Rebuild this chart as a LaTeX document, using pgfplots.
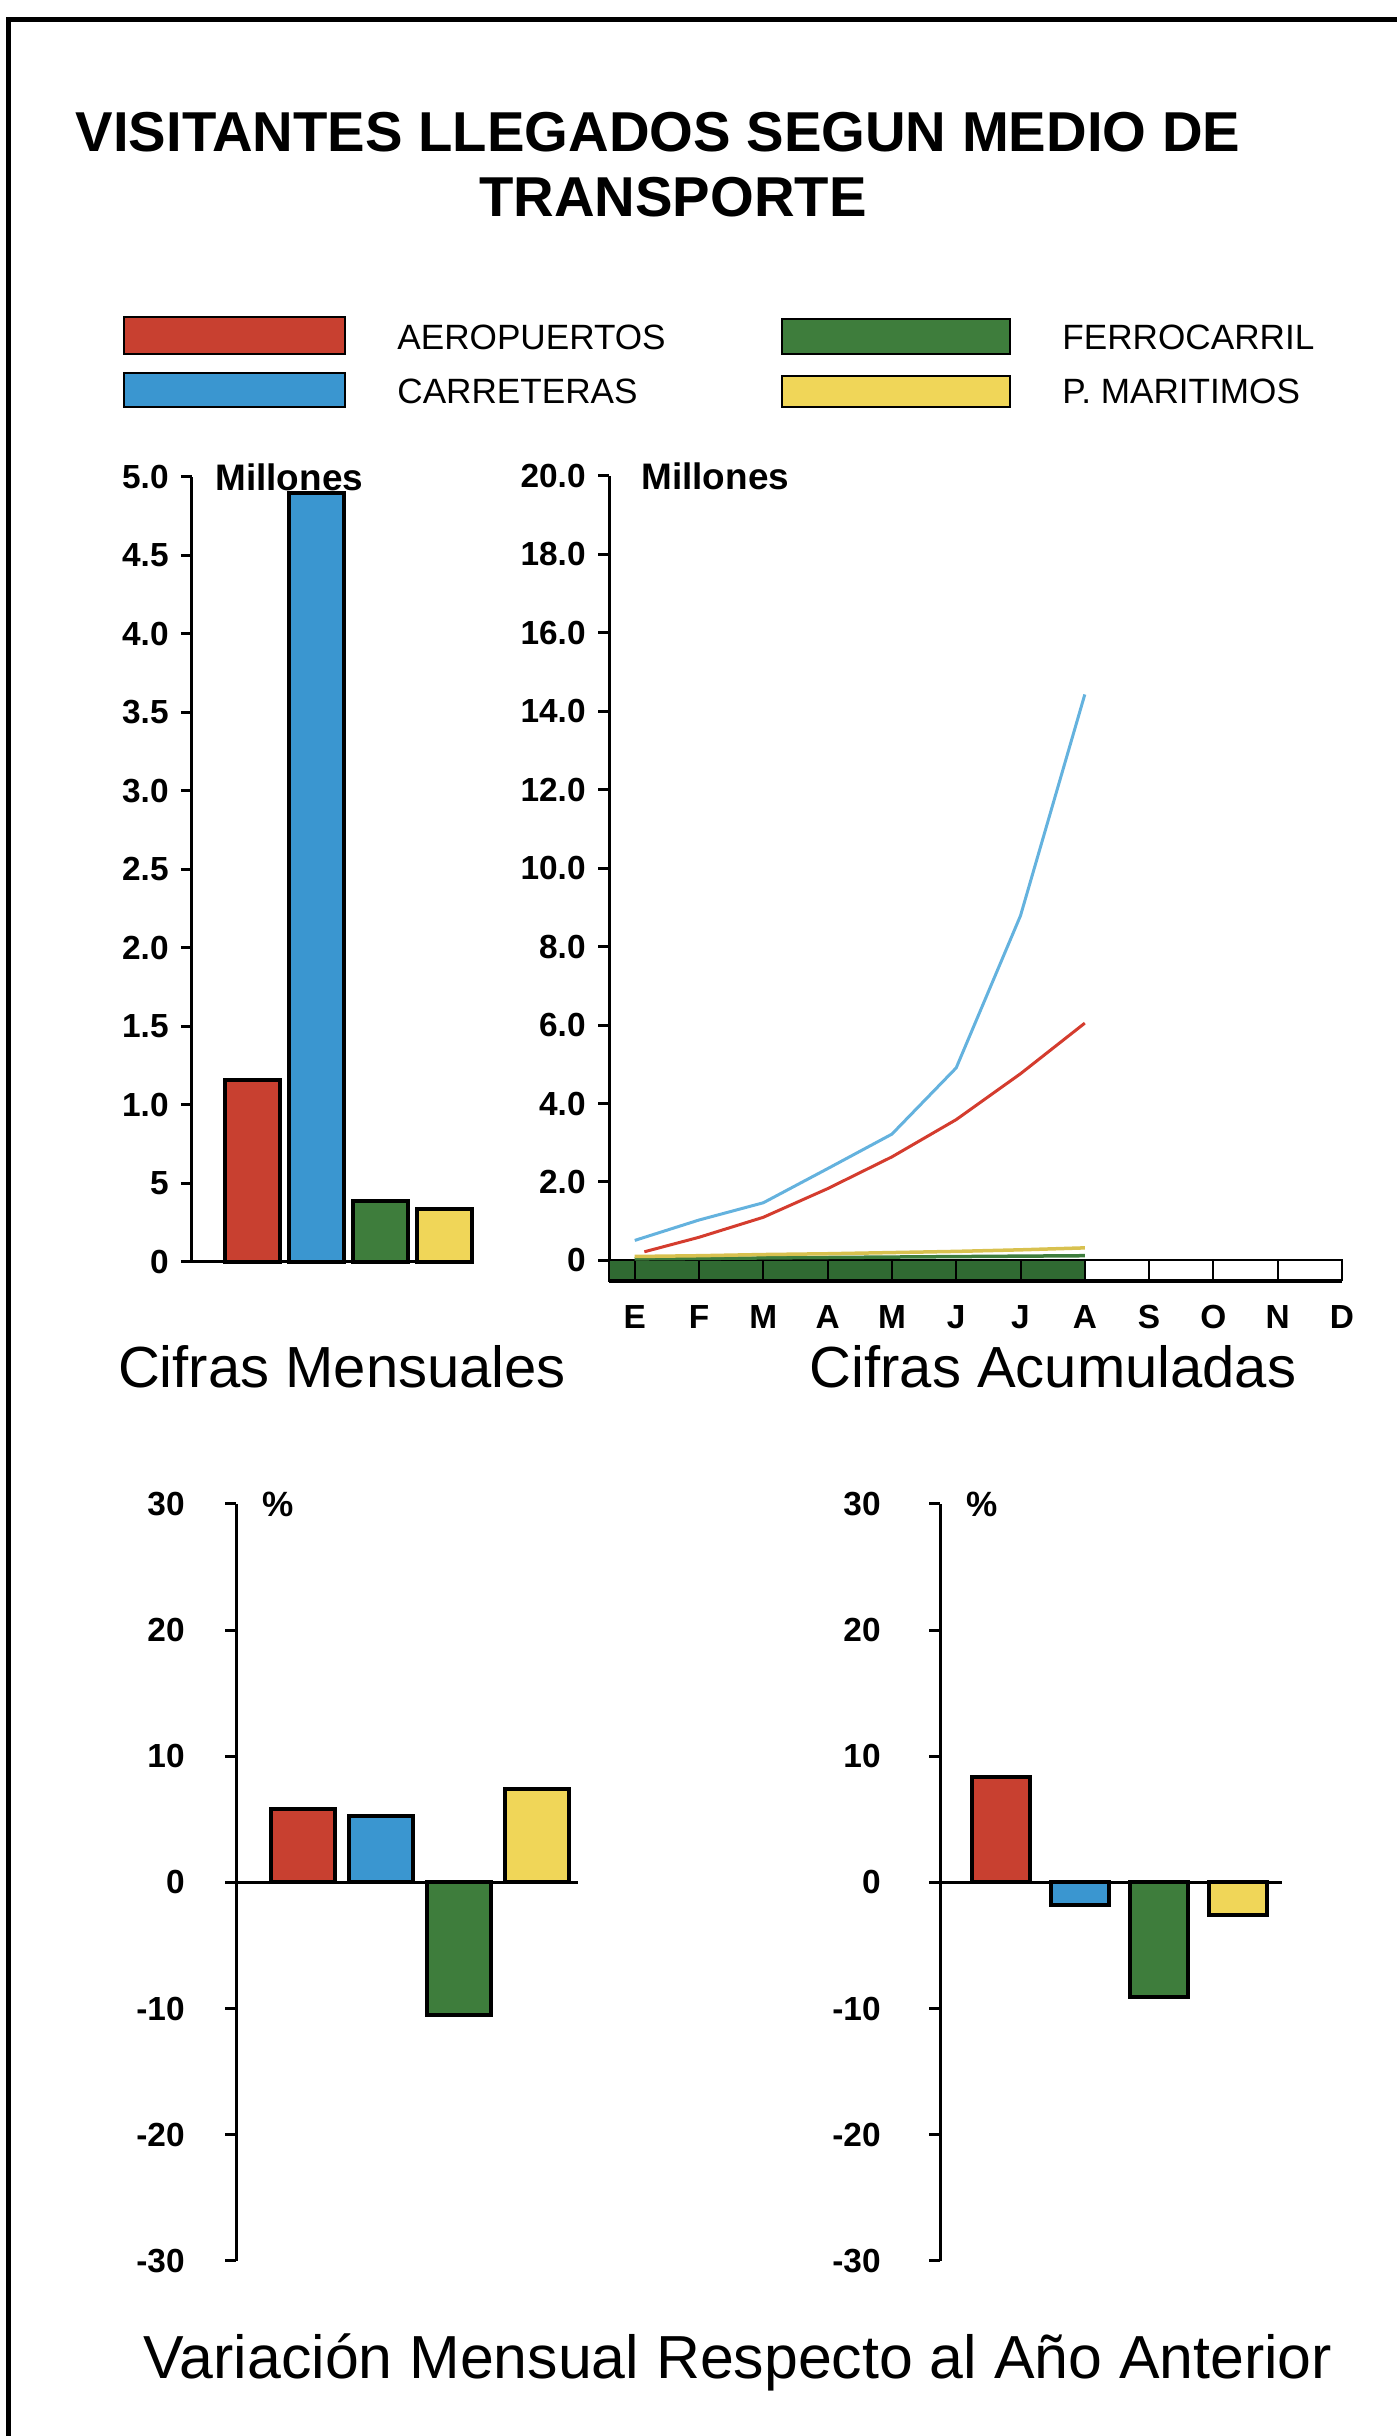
\documentclass[border=0pt]{standalone}
\usepackage{fontspec}
\setmainfont{Liberation Sans}
\usepackage{pgfplots}
\pgfplotsset{compat=1.18}

\definecolor{cRed}{RGB}{200,64,48}
\definecolor{cBlue}{RGB}{58,150,208}
\definecolor{cGreen}{RGB}{62,125,60}
\definecolor{cYellow}{RGB}{240,214,88}
\definecolor{lBlue}{RGB}{100,178,222}
\definecolor{lRed}{RGB}{212,60,46}
\definecolor{sGreen}{RGB}{48,106,50}

\pgfplotsset{
  panel/.style={
    scale only axis, clip=false,
    axis x line*=bottom, axis y line*=left,
    x axis line style={-}, y axis line style={-},
    axis line style={line width=0.03cm},
    every tick/.style={black, line width=0.03cm},
    tick align=outside, major tick length=0.11cm,
    yticklabel style={font=\fontsize{9.5}{11}\bfseries\selectfont},
    xticklabel style={font=\fontsize{9.5}{11}\bfseries\selectfont},
  },
  bars/.style={ybar, bar shift=0pt, draw=black, line width=0.04cm},
}

\begin{document}
% 1 cm = 100 px of the reference
\begin{tikzpicture}
\path[use as bounding box] (0,0) rectangle (13.97,24.36);
\draw[line width=0.05cm] (0.08,0) -- (0.08,24.16) -- (13.97,24.16);

% title
\node[font=\fontsize{16}{19}\bfseries\selectfont] at (6.58,23.04) {VISITANTES LLEGADOS SEGUN MEDIO DE};
\node[font=\fontsize{16}{19}\bfseries\selectfont] at (6.73,22.39) {TRANSPORTE};

% legend
\draw[fill=cRed, line width=0.02cm] (1.24,20.82) rectangle (3.45,21.19);
\draw[fill=cBlue, line width=0.02cm] (1.24,20.29) rectangle (3.45,20.63);
\draw[fill=cGreen, line width=0.02cm] (7.82,20.82) rectangle (10.10,21.17);
\draw[fill=cYellow, line width=0.02cm] (7.82,20.29) rectangle (10.10,20.60);
\begin{scope}[every node/.style={anchor=west, font=\fontsize{10}{12}\selectfont}]
\node at (3.85,20.99) {AEROPUERTOS};
\node at (3.85,20.45) {CARRETERAS};
\node at (10.50,20.99) {FERROCARRIL};
\node at (10.50,20.45) {P. MARITIMOS};
\end{scope}

% monthly figures
\begin{axis}[panel, at={(1.92cm,11.74cm)}, anchor=south west,
  width=2.81cm, height=7.85cm,
  xmin=0.047, xmax=4.45, ymin=0, ymax=5,
  xtick=\empty,
  ytick={0,0.5,...,5},
  yticklabels={0,5,1.0,1.5,2.0,2.5,3.0,3.5,4.0,4.5,5.0}]
\addplot[bars, bar width=0.86, fill=cRed] coordinates {(1,1.16)};
\addplot[bars, bar width=0.86, fill=cBlue] coordinates {(2,4.90)};
\addplot[bars, bar width=0.86, fill=cGreen] coordinates {(3,0.39)};
\addplot[bars, bar width=0.86, fill=cYellow] coordinates {(4,0.34)};
\node[anchor=west, xshift=0.11cm, font=\fontsize{10.5}{12}\bfseries\selectfont] at (rel axis cs:0,1) {Millones};
\end{axis}

% cumulative figures
\begin{axis}[panel, at={(6.09cm,11.54cm)}, anchor=south west,
  width=7.33cm, height=8.06cm,
  xmin=0.6, xmax=12, ymin=-0.55, ymax=20,
  xtick={1,...,12}, xtick style={draw=none},
  xticklabels={E,F,M,A,M,J,J,A,S,O,N,D},
  ytick={0,2,...,20},
  yticklabels={0,2.0,4.0,6.0,8.0,10.0,12.0,14.0,16.0,18.0,20.0}]
\addplot[ybar interval, fill=sGreen, draw=black, line width=0.02cm]
  coordinates {(0.6,-0.5)(1,-0.5)(2,-0.5)(3,-0.5)(4,-0.5)(5,-0.5)(6,-0.5)(7,-0.5)(8,-0.5)};
\addplot[ybar interval, fill=white, draw=black, line width=0.02cm]
  coordinates {(8,-0.5)(9,-0.5)(10,-0.5)(11,-0.5)(12,-0.5)};
\addplot[cGreen, line width=0.035cm] coordinates {(1,0.04)(8,0.12)};
\addplot[cYellow!90!black, line width=0.035cm] coordinates {(1,0.10)(2,0.12)(3,0.15)(4,0.17)(5,0.20)(6,0.23)(7,0.27)(8,0.32)};
\addplot[lRed, line width=0.03cm] coordinates {(1.15,0.22)(2,0.59)(3,1.10)(4,1.83)(5,2.64)(6,3.59)(7,4.76)(8,6.05)};
\addplot[lBlue, line width=0.03cm] coordinates {(1,0.51)(2,1.03)(3,1.47)(4,2.34)(5,3.22)(6,4.91)(7,8.79)(8,14.43)};
\node[anchor=west, xshift=0.2cm, font=\fontsize{10.5}{12}\bfseries\selectfont] at (rel axis cs:0,1) {Millones};
\end{axis}

\node[font=\fontsize{16.5}{19}\selectfont] at (3.42,10.69) {Cifras Mensuales};
\node[font=\fontsize{16.5}{19}\selectfont] at (10.53,10.69) {Cifras Acumuladas};

% variation, left
\begin{axis}[panel, at={(2.36cm,1.75cm)}, anchor=south west,
  axis x line*=middle,
  width=3.42cm, height=7.57cm,
  xmin=0.141, xmax=4.526, ymin=-30, ymax=30,
  xtick=\empty,
  ytick={-30,-20,...,30},
  yticklabels={-30,-20,-10,0,10,20,30},
  yticklabel style={xshift=-0.28cm}]
\addplot[bars, bar width=0.81, fill=cRed] coordinates {(1,5.8)};
\addplot[bars, bar width=0.81, fill=cBlue] coordinates {(2,5.3)};
\addplot[bars, bar width=0.81, fill=cGreen] coordinates {(3,-10.5)};
\addplot[bars, bar width=0.81, fill=cYellow] coordinates {(4,7.4)};
\node[anchor=west, xshift=0.14cm, font=\fontsize{10}{12}\bfseries\selectfont] at (rel axis cs:0,1) {\%};
\end{axis}

% variation, right
\begin{axis}[panel, at={(9.40cm,1.75cm)}, anchor=south west,
  axis x line*=middle,
  width=3.42cm, height=7.57cm,
  xmin=0.228, xmax=4.557, ymin=-30, ymax=30,
  xtick=\empty,
  ytick={-30,-20,...,30},
  yticklabels={-30,-20,-10,0,10,20,30},
  yticklabel style={xshift=-0.36cm}]
\addplot[bars, bar width=0.74, fill=cRed] coordinates {(1,8.4)};
\addplot[bars, bar width=0.74, fill=cBlue] coordinates {(2,-1.8)};
\addplot[bars, bar width=0.74, fill=cGreen] coordinates {(3,-9.1)};
\addplot[bars, bar width=0.74, fill=cYellow] coordinates {(4,-2.6)};
\node[anchor=west, xshift=0.14cm, font=\fontsize{10}{12}\bfseries\selectfont] at (rel axis cs:0,1) {\%};
\end{axis}

\node[font=\fontsize{17.3}{20}\selectfont] at (7.38,0.74) {Variación Mensual Respecto al Año Anterior};
\end{tikzpicture}
\end{document}
